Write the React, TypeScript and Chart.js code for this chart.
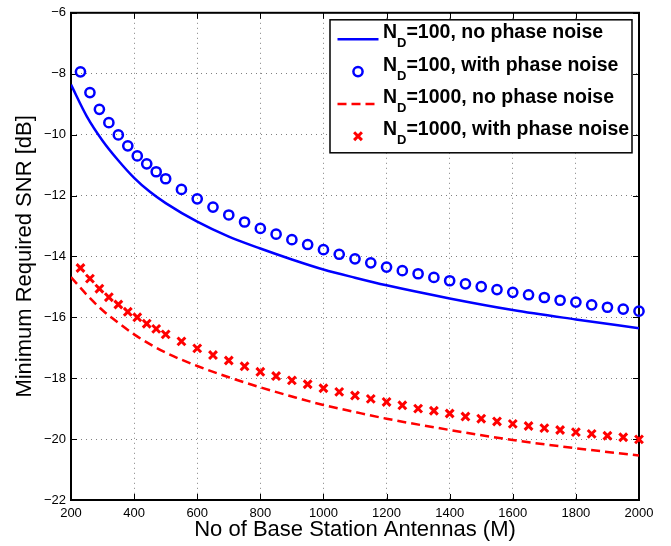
import { useEffect, useRef } from "react";
import { Chart, registerables } from "chart.js";

Chart.register(...registerables);

// Antenna counts sampled for the analytic (no phase noise) curves
const curveAntennas = [200, 250, 300, 350, 400, 450, 500, 600, 700, 800, 900, 1000, 1100, 1200, 1400, 1600, 1800, 2000];
const snrNd100NoPn = [-8.36, -9.4, -10.2, -10.85, -11.42, -11.88, -12.25, -12.86, -13.35, -13.74, -14.1, -14.43, -14.7, -14.95, -15.38, -15.76, -16.07, -16.36];
const snrNd1000NoPn = [-14.68, -15.26, -15.77, -16.18, -16.56, -16.88, -17.16, -17.6, -17.97, -18.3, -18.6, -18.88, -19.11, -19.33, -19.7, -20.03, -20.3, -20.54];

// Antenna counts of the simulated (with phase noise) points
const markerAntennas = [
  230, 260, 290, 320, 350, 380, 410, 440, 470, 500,
  550, 600, 650, 700, 750, 800, 850, 900, 950, 1000,
  1050, 1100, 1150, 1200, 1250, 1300, 1350, 1400, 1450, 1500,
  1550, 1600, 1650, 1700, 1750, 1800, 1850, 1900, 1950, 2000,
];
const snrNd100Pn = [
  -7.94, -8.62, -9.17, -9.61, -10.01, -10.37, -10.7, -10.96, -11.22, -11.45,
  -11.8, -12.11, -12.38, -12.64, -12.87, -13.08, -13.27, -13.45, -13.61, -13.78,
  -13.93, -14.08, -14.21, -14.35, -14.47, -14.57, -14.69, -14.8, -14.9, -14.99,
  -15.09, -15.18, -15.26, -15.35, -15.44, -15.5, -15.59, -15.67, -15.73, -15.8,
];
const snrNd1000Pn = [
  -14.38, -14.73, -15.06, -15.34, -15.58, -15.82, -16.0, -16.21, -16.38, -16.56,
  -16.79, -17.02, -17.24, -17.42, -17.61, -17.79, -17.93, -18.07, -18.2, -18.33,
  -18.45, -18.57, -18.68, -18.78, -18.89, -19.0, -19.07, -19.16, -19.26, -19.33,
  -19.42, -19.5, -19.57, -19.64, -19.7, -19.77, -19.83, -19.89, -19.94, -20.01,
];

const xTicks = [200, 400, 600, 800, 1000, 1200, 1400, 1600, 1800, 2000];
const yTicks = [-22, -20, -18, -16, -14, -12, -10, -8, -6];

// Legend text: main symbol, subscript, remainder
const legendMain = ["N", "N", "N", "N"];
const legendSub = ["D", "D", "D", "D"];
const legendRest = [
  "=100, no phase noise",
  "=100, with phase noise",
  "=1000, no phase noise",
  "=1000, with phase noise",
];

const FONT = "'Liberation Sans', Arial, Helvetica, sans-serif";
const BLUE = "#0000ff";
const RED = "#ff0000";

const toPoints = (xs: number[], ys: number[]) => xs.map((x, i) => ({ x, y: ys[i] }));

// Axis box with inward tick marks on all four sides (MATLAB style)
const framePlugin = {
  id: "frame",
  beforeDatasetsDraw(chart: any) {
    const { ctx, chartArea: a, scales } = chart;
    const len = 6;
    ctx.save();
    ctx.strokeStyle = "#000";
    ctx.lineWidth = 1;
    ctx.beginPath();
    for (const t of scales.x.ticks) {
      const px = Math.round(scales.x.getPixelForValue(t.value)) + 0.5;
      ctx.moveTo(px, a.bottom);
      ctx.lineTo(px, a.bottom - len);
      ctx.moveTo(px, a.top);
      ctx.lineTo(px, a.top + len);
    }
    for (const t of scales.y.ticks) {
      const py = Math.round(scales.y.getPixelForValue(t.value)) + 0.5;
      ctx.moveTo(a.left, py);
      ctx.lineTo(a.left + len, py);
      ctx.moveTo(a.right, py);
      ctx.lineTo(a.right - len, py);
    }
    ctx.stroke();
    ctx.lineWidth = 2;
    ctx.strokeRect(a.left, a.top, a.right - a.left, a.bottom - a.top);
    ctx.restore();
  },
};

// Legend with subscripted labels, drawn in the upper right corner
const legendPlugin = {
  id: "subLegend",
  afterDraw(chart: any) {
    const { ctx, chartArea: a } = chart;
    const w = 302;
    const h = 133;
    const left = a.right - 7 - w;
    const top = a.top + 7;
    ctx.save();
    ctx.fillStyle = "#fff";
    ctx.fillRect(left, top, w, h);
    ctx.strokeStyle = "#000";
    ctx.lineWidth = 1.5;
    ctx.strokeRect(left, top, w, h);

    chart.data.datasets.forEach((ds: any, i: number) => {
      const base = top + 18.5 + i * 32.3;
      const sy = base + 1;
      const cx = left + 28;
      ctx.save();
      ctx.strokeStyle = ds.borderColor;
      ctx.lineWidth = ds.borderWidth;
      if (ds.showLine !== false) {
        ctx.setLineDash(ds.borderDash || []);
        ctx.beginPath();
        ctx.moveTo(cx - 20.5, sy);
        ctx.lineTo(cx + 20.5, sy);
        ctx.stroke();
      } else if (ds.pointStyle === "circle") {
        ctx.beginPath();
        ctx.arc(cx, sy, ds.pointRadius, 0, Math.PI * 2);
        ctx.stroke();
      } else {
        const d = ds.pointRadius * Math.SQRT1_2;
        ctx.beginPath();
        ctx.moveTo(cx - d, sy - d);
        ctx.lineTo(cx + d, sy + d);
        ctx.moveTo(cx - d, sy + d);
        ctx.lineTo(cx + d, sy - d);
        ctx.stroke();
      }
      ctx.restore();

      let tx = left + 53;
      ctx.fillStyle = "#000";
      ctx.textBaseline = "alphabetic";
      ctx.textAlign = "left";
      ctx.font = `bold 19.5px ${FONT}`;
      ctx.fillText(legendMain[i], tx, base);
      tx += ctx.measureText(legendMain[i]).width;
      ctx.font = `bold 13px ${FONT}`;
      ctx.fillText(legendSub[i], tx, base + 9);
      tx += ctx.measureText(legendSub[i]).width;
      ctx.font = `bold 19.5px ${FONT}`;
      ctx.fillText(legendRest[i], tx, base);
    });
    ctx.restore();
  },
};

export default function App() {
  const canvasRef = useRef<HTMLCanvasElement | null>(null);

  useEffect(() => {
    if (!canvasRef.current) return;
    const chart = new Chart(canvasRef.current, {
      type: "line",
      data: {
        datasets: [
          {
            label: legendRest[0],
            data: toPoints(curveAntennas, snrNd100NoPn),
            borderColor: BLUE,
            borderWidth: 2.5,
            pointRadius: 0,
            cubicInterpolationMode: "monotone",
            fill: false,
          },
          {
            label: legendRest[1],
            data: toPoints(markerAntennas, snrNd100Pn),
            showLine: false,
            borderColor: BLUE,
            backgroundColor: "transparent",
            borderWidth: 2.5,
            pointStyle: "circle",
            pointRadius: 4.6,
            clip: false,
          },
          {
            label: legendRest[2],
            data: toPoints(curveAntennas, snrNd1000NoPn),
            borderColor: RED,
            borderWidth: 2.5,
            borderDash: [9, 5],
            pointRadius: 0,
            cubicInterpolationMode: "monotone",
            fill: false,
          },
          {
            label: legendRest[3],
            data: toPoints(markerAntennas, snrNd1000Pn),
            showLine: false,
            borderColor: RED,
            backgroundColor: RED,
            borderWidth: 3,
            pointStyle: "crossRot",
            pointRadius: 5.5,
            clip: false,
          },
        ],
      },
      options: {
        animation: false,
        responsive: false,
        devicePixelRatio: 1,
        layout: { padding: { top: 8, right: 32, left: 0, bottom: 0 } },
        plugins: { legend: { display: false }, tooltip: { enabled: false } },
        scales: {
          x: {
            type: "linear",
            min: 200,
            max: 2000,
            afterBuildTicks: (s: any) => {
              s.ticks = xTicks.map((v) => ({ value: v }));
            },
            afterFit: (s: any) => {
              s.height = 46;
            },
            ticks: {
              autoSkip: false,
              maxRotation: 0,
              padding: 6,
              color: "#000",
              font: { family: FONT, size: 13 },
              callback: (v: any) => String(v),
            },
            grid: { color: "#808080", lineWidth: 1, drawTicks: false },
            border: { display: false, dash: [1, 4] },
            title: {
              display: true,
              text: "No of Base Station Antennas (M)",
              color: "#000",
              font: { family: FONT, size: 22, lineHeight: 1.2 },
              padding: { top: 0, bottom: 3 },
            },
          },
          y: {
            type: "linear",
            min: -22,
            max: -6,
            afterBuildTicks: (s: any) => {
              s.ticks = yTicks.map((v) => ({ value: v }));
            },
            afterFit: (s: any) => {
              s.width = 71;
            },
            ticks: {
              padding: 5,
              color: "#000",
              font: { family: FONT, size: 13 },
              callback: (v: any) => String(v).replace("-", "\u2212"),
            },
            grid: { color: "#808080", lineWidth: 1, drawTicks: false },
            border: { display: false, dash: [1, 4] },
            title: {
              display: true,
              text: "Minimum Required SNR [dB]",
              color: "#000",
              font: { family: FONT, size: 22, lineHeight: 1.2 },
              padding: { top: 12, bottom: 0 },
            },
          },
        },
      },
      plugins: [framePlugin, legendPlugin],
    } as any);
    return () => chart.destroy();
  }, []);

  return (
    <div style={{ position: "absolute", left: 0, top: 0, width: 671, height: 546, background: "#fff" }}>
      <canvas ref={canvasRef} width={671} height={546} style={{ display: "block" }} />
    </div>
  );
}
